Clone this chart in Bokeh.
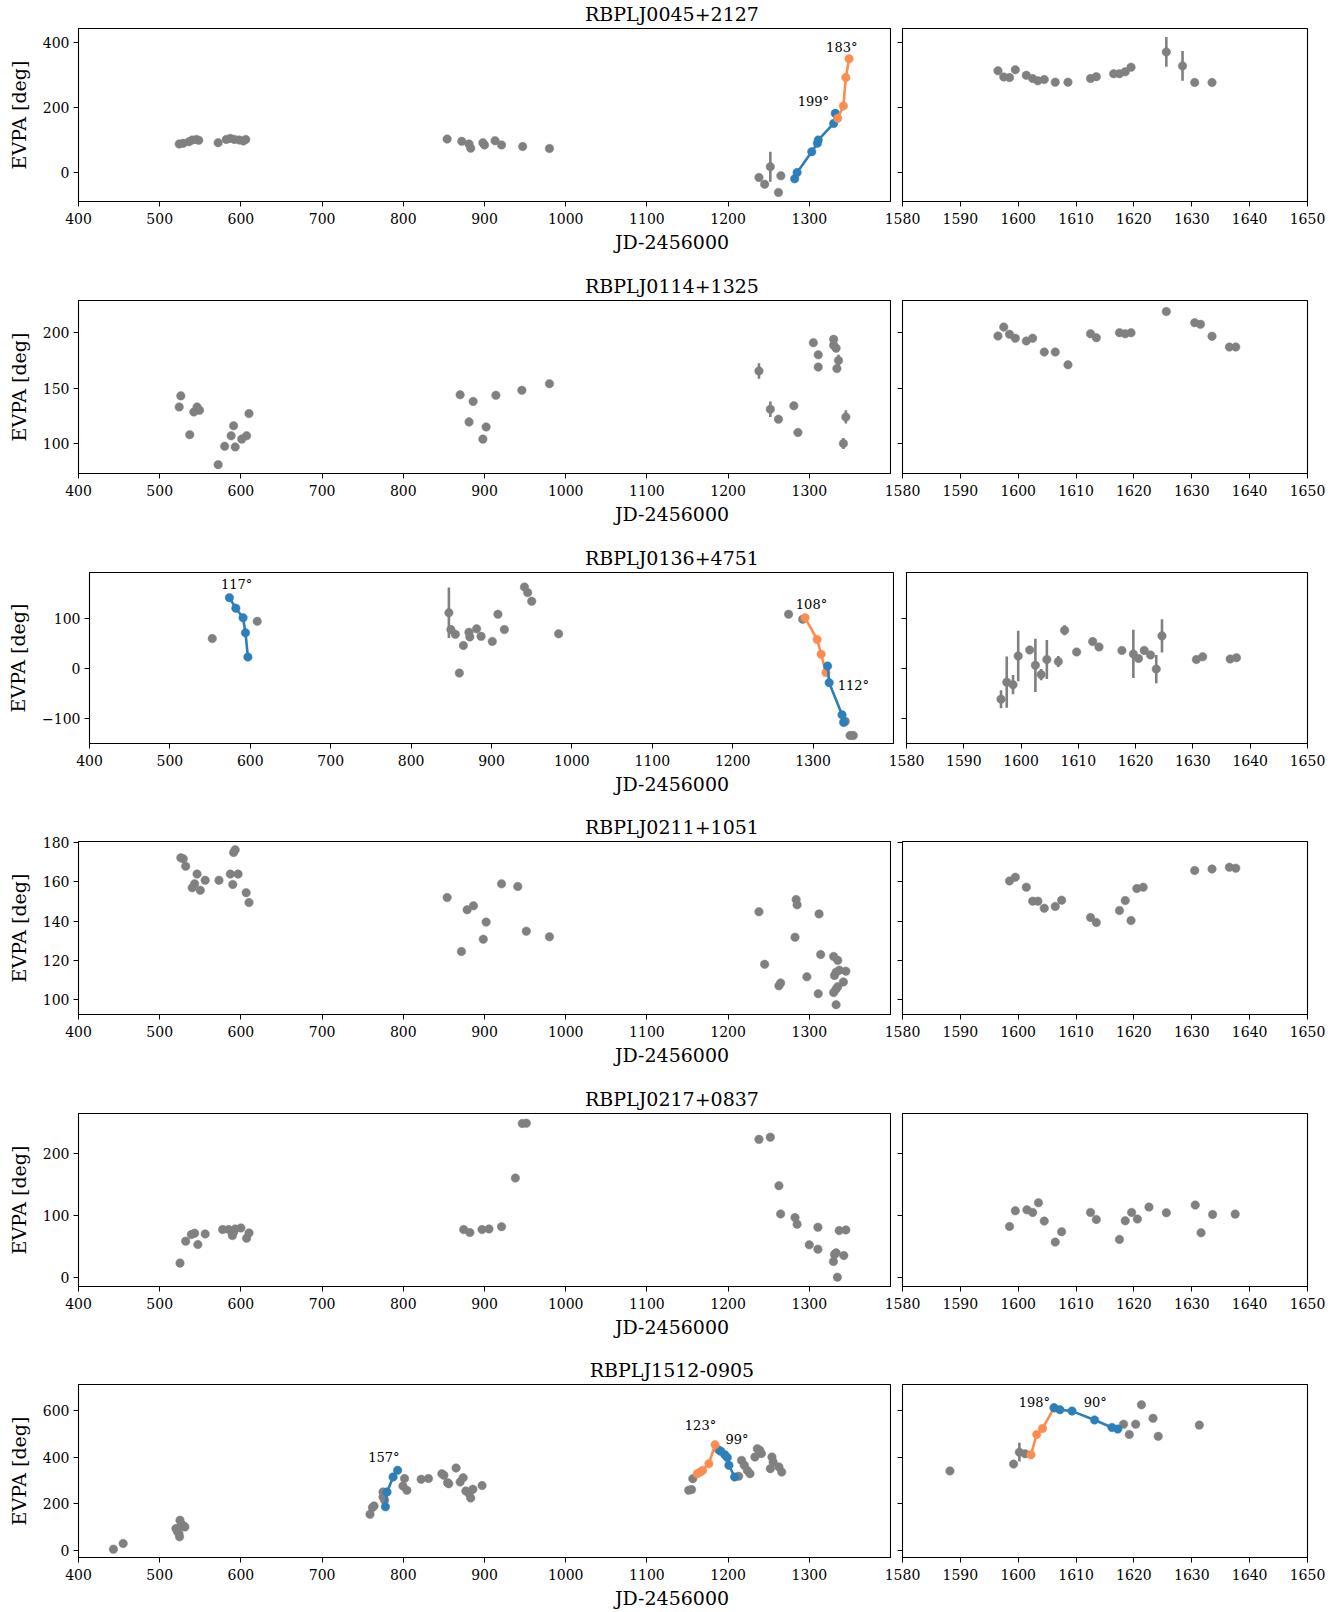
from bokeh.plotting import figure
from bokeh.layouts import column, row
from bokeh.models import Range1d, FixedTicker
from bokeh.core.properties import value
from bokeh.embed import file_html
from bokeh.resources import INLINE

FONT = "DejaVu Serif"
GREY = "#808080"
BLUE = "#2c7fb8"
ORANGE = "#fb8d50"

XL_RANGE = (400, 1400)
XR_RANGE = (1580, 1650)
XL_TICKS = [400, 500, 600, 700, 800, 900, 1000, 1100, 1200, 1300]
XR_TICKS = [1580, 1590, 1600, 1610, 1620, 1630, 1640, 1650]
XLABEL = "JD-2456000"
YLABEL = "EVPA [deg]"

# ---------------- RBPLJ0045+2127 ----------------
J0045_x = [524, 529, 536, 540, 545, 548, 572, 582, 587, 592, 598, 603, 606,
           854, 872, 881, 883, 898, 900, 913, 921, 947, 980,
           1238, 1245, 1252, 1262, 1265,
           1596.5, 1597.5, 1598.5, 1599.5, 1601.4, 1602.5, 1603.4, 1604.5, 1606.4, 1608.6,
           1612.5, 1613.5, 1616.5, 1617.5, 1618.5, 1619.5, 1625.6, 1628.4, 1630.5, 1633.5]
J0045_y = [88, 90, 95, 100, 102, 99, 92, 102, 105, 102, 100, 97, 102,
           103, 96, 88, 75, 92, 85, 98, 85, 80, 74,
           -15, -36, 18, -61, -10,
           313, 294, 292, 316, 299, 289, 282, 286, 278, 278,
           289, 295, 304, 304, 310, 324, 371, 328, 277, 277]
J0045_ex = [1252, 1625.6, 1628.4]
J0045_ey = [18, 371, 328]
J0045_ee = [46, 46, 46]
J0045_bx = [1282, 1285, 1303, 1310, 1311, 1330, 1332]
J0045_by = [-19, 0, 64, 90, 100, 151, 182]
J0045_ox = [1335, 1342, 1345, 1349]
J0045_oy = [167, 205, 292, 350]
J0045_nt = ["199°", "183°"]
J0045_nx = [1305, 1340]
J0045_ny = [218, 384]
J0045_ylim = (-89, 443)
J0045_yticks = [0, 200, 400]

# ---------------- RBPLJ0114+1325 ----------------
J0114_x = [524, 526, 537, 542, 546, 549, 572, 580, 588, 591, 593, 601, 607, 610,
           870, 881, 886, 898, 902, 914, 946, 980,
           1238, 1252, 1262, 1281, 1286, 1305, 1311, 1311, 1330, 1330, 1333, 1334, 1336, 1342, 1345,
           1596.5, 1597.5, 1598.5, 1599.5, 1601.4, 1602.5, 1604.5, 1606.4, 1608.6, 1612.5,
           1613.5, 1617.5, 1618.5, 1619.5, 1625.6, 1630.5, 1631.5, 1633.5, 1636.5, 1637.6]
J0114_y = [133, 143, 108, 128.5, 133, 130, 81, 97.6, 107, 116, 97, 104, 107, 127,
           144, 119.5, 138, 104, 115, 143.5, 148, 154,
           165.5, 131, 122, 134, 110, 191, 180, 169, 194, 188.6, 186, 167.6, 175, 100, 124,
           197, 205, 198.5, 195, 192.5, 195, 182.5, 182.5, 171, 199,
           195.5, 200, 199, 200, 219, 209, 207.5, 196.7, 187, 187]
J0114_ex = [881, 1238, 1252, 1336, 1342, 1345]
J0114_ey = [119.5, 165.5, 131, 175, 100, 124]
J0114_ee = [4, 7, 7, 5, 5, 6]
J0114_ylim = (73, 229)
J0114_yticks = [100, 150, 200]

# ---------------- RBPLJ0136+4751 ----------------
J0136_x = [552.7, 608.6, 847, 849.5, 855, 860, 865, 872, 873, 881.5, 887, 901, 908, 916,
           941, 945, 950, 983.5, 1269.5, 1287, 1340, 1346, 1350,
           1596.5, 1597.5, 1598.6, 1599.5, 1601.5, 1602.5, 1603.5, 1604.5, 1606.5, 1607.6,
           1609.7, 1612.5, 1613.6, 1617.6, 1619.6, 1620.5, 1621.5, 1622.6, 1623.6, 1624.6,
           1630.6, 1631.7, 1636.5, 1637.6]
J0136_y = [59.6, 94, 111, 77.5, 68, -9, 46, 72, 63, 79, 64, 54, 108, 77.5,
           162, 151, 134, 69, 108, 98, -105, -133, -133,
           -61, -27, -32, 25, 37, 6.5, -12, 18, 14, 76,
           33, 53.6, 43, 36, 29, 20, 36, 27, -1, 65,
           18, 23.5, 19, 21.6]
J0136_ex = [847, 1596.5, 1597.5, 1598.6, 1599.5, 1602.5, 1603.5, 1604.5, 1606.5, 1607.6,
            1619.6, 1622.6, 1623.6, 1624.6]
J0136_ey = [111, -61, -27, -32, 25, 6.5, -12, 18, 14, 76, 29, 27, -1, 65]
J0136_ee = [50, 18, 51, 19, 50, 53, 11, 39, 11, 10, 48, 8, 28, 33]
J0136_b1x = [574, 582, 591, 594, 597]
J0136_b1y = [141, 120, 101, 71, 23]
J0136_ox = [1290, 1305, 1310, 1316]
J0136_oy = [101, 58, 28.5, -8]
J0136_b2x = [1318, 1320, 1336, 1338]
J0136_b2y = [5, -28, -92, -107]
J0136_nt = ["117°", "108°", "112°"]
J0136_nx = [583, 1298, 1350]
J0136_ny = [168, 128, -34]
J0136_ylim = (-149, 191)
J0136_yticks = [-100, 0, 100]

# ---------------- RBPLJ0211+1051 ----------------
J0211_x = [526, 529, 532, 546, 540, 543, 550, 556, 573, 587, 590, 591, 593, 596.5, 606.5, 610,
           854, 871.6, 878.6, 886.4, 898.5, 902, 921, 941, 951.5, 980,
           1238, 1245, 1262.6, 1264.7, 1282.4, 1283.8, 1285, 1297, 1311, 1312, 1314,
           1330, 1335, 1331, 1333, 1337, 1330, 1333, 1335, 1333, 1342, 1345,
           1598.5, 1599.5, 1601.4, 1602.5, 1603.4, 1604.5, 1606.4, 1607.5, 1612.5, 1613.5,
           1617.5, 1618.5, 1619.5, 1620.5, 1621.6, 1630.5, 1633.5, 1636.5, 1637.6]
J0211_y = [172.3, 171.8, 168, 164, 157, 159, 155.7, 160.8, 160.8, 164, 158.7, 175, 176.4, 164, 154.5, 149.5,
           152, 124.5, 145.8, 147.8, 130.8, 139.5, 159, 157.7, 134.9, 132,
           144.8, 118, 107, 108.5, 131.8, 151, 148.3, 111.6, 103, 143.7, 123,
           122, 120, 112.3, 114, 115, 103.6, 105.4, 106.6, 97.4, 109, 114.5,
           160.5, 162.4, 157.3, 150.2, 150.2, 146.6, 147.5, 150.7, 141.9, 139.3,
           145.4, 150.5, 140.3, 156.6, 157.3, 165.8, 166.6, 167.5, 167]
J0211_ex = [1312]
J0211_ey = [143.7]
J0211_ee = [2]
J0211_ylim = (92.4, 180.6)
J0211_yticks = [100, 120, 140, 160, 180]

# ---------------- RBPLJ0217+0837 ----------------
J0217_x = [525, 532, 539, 543, 547, 556, 577.5, 585, 589.5, 591, 593, 600, 607, 610,
           874.4, 882, 897, 905.5, 921, 938, 946.5, 951.5,
           1238, 1252, 1262.6, 1264.7, 1282.4, 1285, 1300, 1310.6, 1310.6, 1329.7, 1331, 1333,
           1334.6, 1336.8, 1342.5, 1345,
           1598.5, 1599.5, 1601.5, 1602.5, 1603.5, 1604.5, 1606.4, 1607.5, 1612.5, 1613.5,
           1617.5, 1618.5, 1619.6, 1620.6, 1622.6, 1625.6, 1630.6, 1631.6, 1633.6, 1637.5]
J0217_y = [23.5, 58.7, 69.3, 71.5, 53.3, 70.4, 77.3, 77.3, 67.7, 73, 78.4, 80, 63.5, 72,
           77.3, 72.5, 77.3, 78.4, 82, 160, 247.5, 248,
           222, 225.6, 147.7, 102.4, 96.5, 85.9, 52.8, 81, 45.9, 26, 37.3, 40,
           1, 75.7, 35.7, 76.8,
           82.4, 107.5, 109, 104.8, 120.3, 90.9, 57.2, 73.8, 104.8, 93.6,
           61.5, 91.4, 104.8, 94.1, 113.4, 104.3, 116.6, 72.2, 101.6, 102.1]
J0217_ylim = (-14, 263.5)
J0217_yticks = [0, 100, 200]

# ---------------- RBPLJ1512-0905 ----------------
J1512_x = [443, 455, 520, 521.6, 523.7, 524.4, 525, 526.5, 531, 529.4,
           759, 762, 764, 775, 775, 777, 799.5, 801.5, 804.4, 822, 831, 847.5, 850, 854.6, 856,
           865, 870, 873.7, 877, 881, 883, 885.7, 897,
           1151.5, 1155, 1156.5, 1188, 1213, 1216.6, 1220, 1223.7, 1227, 1233, 1236, 1239,
           1241, 1252, 1254, 1255.5, 1262.6, 1266,
           1588.2, 1599.2, 1600.2, 1601.2, 1618.2, 1619.2, 1620.3, 1621.3, 1623.3, 1624.2, 1631.3]
J1512_y = [5.7, 30, 94, 82.7, 72.7, 58.4, 129.7, 112.6, 101, 105.5,
           155, 184, 191, 251, 229, 215, 276.5, 308, 258, 305, 308, 329, 322, 290.7, 286,
           353.4, 293.6, 312, 255, 243.7, 225, 262, 278,
           258, 261, 307.8, 432, 318, 386, 365, 343, 329, 400, 436, 429,
           415, 350.6, 400, 379, 357.7, 336,
           341, 370, 421, 414, 541, 497, 541, 624, 566, 489, 537]
J1512_ex = [1600.2]
J1512_ey = [421]
J1512_ee = [40]
J1512_b1x = [778, 780, 787.4, 793]
J1512_b1y = [187, 251, 315, 343.5]
J1512_o1x = [1162, 1165.7, 1168.5, 1176.3, 1184]
J1512_o1y = [329, 336, 343, 372, 453]
J1512_b2x = [1191, 1196, 1199, 1201, 1208]
J1512_b2y = [425, 410, 398, 365, 315]
J1512_o2x = [1602.2, 1603.2, 1604.2, 1606.2]
J1512_o2y = [410, 497, 523, 611]
J1512_b3x = [1606.2, 1607.2, 1609.3, 1613.2, 1616.2, 1617.2]
J1512_b3y = [611, 603, 597, 559, 527, 520]
J1512_nt = ["157°", "123°", "99°", "198°", "90°"]
J1512_nx = [776, 1166, 1211, 1602.8, 1613.3]
J1512_ny = [400, 536, 475, 634, 634]
J1512_ylim = (-30, 711)
J1512_yticks = [0, 200, 400, 600]

SOURCES = [
    dict(name="RBPLJ0045+2127", x=J0045_x, y=J0045_y, ex=J0045_ex, ey=J0045_ey, ee=J0045_ee,
         segs=[(BLUE, J0045_bx, J0045_by), (ORANGE, J0045_ox, J0045_oy)],
         notes=(J0045_nt, J0045_nx, J0045_ny), ylim=J0045_ylim, yticks=J0045_yticks),
    dict(name="RBPLJ0114+1325", x=J0114_x, y=J0114_y, ex=J0114_ex, ey=J0114_ey, ee=J0114_ee,
         segs=[], notes=None, ylim=J0114_ylim, yticks=J0114_yticks),
    dict(name="RBPLJ0136+4751", x=J0136_x, y=J0136_y, ex=J0136_ex, ey=J0136_ey, ee=J0136_ee,
         segs=[(BLUE, J0136_b1x, J0136_b1y), (ORANGE, J0136_ox, J0136_oy), (BLUE, J0136_b2x, J0136_b2y)],
         notes=(J0136_nt, J0136_nx, J0136_ny), ylim=J0136_ylim, yticks=J0136_yticks),
    dict(name="RBPLJ0211+1051", x=J0211_x, y=J0211_y, ex=J0211_ex, ey=J0211_ey, ee=J0211_ee,
         segs=[], notes=None, ylim=J0211_ylim, yticks=J0211_yticks),
    dict(name="RBPLJ0217+0837", x=J0217_x, y=J0217_y, ex=[], ey=[], ee=[],
         segs=[], notes=None, ylim=J0217_ylim, yticks=J0217_yticks),
    dict(name="RBPLJ1512-0905", x=J1512_x, y=J1512_y, ex=J1512_ex, ey=J1512_ey, ee=J1512_ee,
         segs=[(BLUE, J1512_b1x, J1512_b1y), (ORANGE, J1512_o1x, J1512_o1y), (BLUE, J1512_b2x, J1512_b2y),
               (ORANGE, J1512_o2x, J1512_o2y), (BLUE, J1512_b3x, J1512_b3y)],
         notes=(J1512_nt, J1512_nx, J1512_ny), ylim=J1512_ylim, yticks=J1512_yticks),
]

# ---------------- layout (pixels) ----------------
FRAME_TOP = [28, 300, 572, 841, 1113, 1384]
FH = [173, 173, 171, 173, 173, 173]
BL = [78, 78, 89, 78, 78, 78]
FWL = [812, 812, 804, 812, 812, 812]
FWR = [405, 405, 401, 405, 405, 405]
GAP = [12, 12, 13, 12, 12, 12]
PT = 10         # panel top border (room for a tick label at the frame top)
STRIP_GAP = 2   # title strip ends this far above the frame
PB = 30         # panel bottom border
OVER = 22       # overlap of right panel canvas onto left panel canvas
TITLE_ABOVE = 15
XLABEL_BELOW = 40
PAGE_W = 1337
CENTER_X = 671.5
LAST_H = 23


def style(p, xticks, yticks, hide_ylabels):
    p.xgrid.visible = False
    p.ygrid.visible = False
    p.outline_line_color = "black"
    p.outline_line_width = 1.1
    p.outline_line_alpha = 1.0
    p.background_fill_color = "white"
    p.border_fill_alpha = 0
    for ax in (p.xaxis[0], p.yaxis[0]):
        ax.axis_line_color = "black"
        ax.axis_line_width = 1
        ax.major_tick_line_color = "black"
        ax.major_tick_line_width = 1
        ax.major_tick_in = 0
        ax.major_tick_out = 5
        ax.minor_tick_line_color = None
        ax.major_label_text_font = FONT
        ax.major_label_text_font_size = "14px"
        ax.major_label_text_color = "black"
        ax.major_label_standoff = 4
    p.xaxis[0].major_label_standoff = 6
    p.xaxis[0].ticker = FixedTicker(ticks=xticks)
    p.yaxis[0].ticker = FixedTicker(ticks=yticks)
    if hide_ylabels:
        p.yaxis[0].major_label_overrides = {t: "" for t in yticks}
    else:
        p.yaxis[0].major_label_overrides = {t: ("\u2212" + str(-t)) for t in yticks if t < 0}


def draw(p, s):
    p.segment(x0=s["ex"], y0=[a - b for a, b in zip(s["ey"], s["ee"])],
              x1=s["ex"], y1=[a + b for a, b in zip(s["ey"], s["ee"])],
              line_color=GREY, line_width=2.6)
    p.scatter(s["x"], s["y"], size=8.5, fill_color=GREY, line_color=GREY, line_width=0.5)
    for col, xs, ys in s["segs"]:
        p.line(xs, ys, line_color=col, line_width=2.6)
        p.scatter(xs, ys, size=8.5, fill_color=col, line_color=col, line_width=0.5)
    if s["notes"]:
        nt, nx, ny = s["notes"]
        p.text(x=nx, y=ny, text=nt, text_font=value(FONT), text_font_size="13px",
               text_align="center", text_baseline="middle", text_color="black")


def text_strip(top, bottom, items):
    """A borderless figure spanning the page width holding centred texts."""
    h = bottom - top
    t = figure(width=PAGE_W, height=h, x_range=Range1d(0, PAGE_W), y_range=Range1d(h, 0),
               min_border=0, x_axis_location=None, y_axis_location=None,
               output_backend="svg", toolbar_location=None, tools="", title=None)
    t.xgrid.visible = False
    t.ygrid.visible = False
    t.outline_line_color = None
    t.border_fill_alpha = 0
    t.background_fill_alpha = 0
    t.text(x=[CENTER_X] * len(items), y=[yc - top for _, yc in items], text=[s for s, _ in items],
           text_font=value(FONT), text_font_size="19px", text_align="center",
           text_baseline="middle", text_color="black")
    return t


children = []
prev_bottom = 0
prev_xlabel = None
shift = PT - STRIP_GAP
for i, s in enumerate(SOURCES):
    strip_bottom = FRAME_TOP[i] - STRIP_GAP
    items = []
    if prev_xlabel is not None:
        items.append((XLABEL, prev_xlabel))
    items.append((s["name"], FRAME_TOP[i] - TITLE_ABOVE))
    children.append(text_strip(prev_bottom, strip_bottom, items))

    pl = figure(x_range=Range1d(*XL_RANGE), y_range=Range1d(*s["ylim"]),
                frame_width=FWL[i], frame_height=FH[i],
                min_border_left=BL[i], min_border_right=1, min_border_top=PT, min_border_bottom=PB,
                output_backend="svg", toolbar_location=None, tools="", title=None,
                margin=(-shift, 0, 0, 0))
    style(pl, XL_TICKS, s["yticks"], False)
    pl.yaxis[0].axis_label = YLABEL
    pl.yaxis[0].axis_label_text_font = FONT
    pl.yaxis[0].axis_label_text_font_size = "19px"
    pl.yaxis[0].axis_label_text_font_style = "normal"
    pl.yaxis[0].axis_label_text_color = "black"
    pl.yaxis[0].axis_label_standoff = 10
    draw(pl, s)

    pr = figure(x_range=Range1d(*XR_RANGE), y_range=Range1d(*s["ylim"]),
                frame_width=FWR[i], frame_height=FH[i],
                min_border_left=GAP[i] - 1 + OVER, min_border_right=30, min_border_top=PT,
                min_border_bottom=PB,
                output_backend="svg", toolbar_location=None, tools="", title=None,
                margin=(-shift, 0, 0, -OVER))
    style(pr, XR_TICKS, s["yticks"], True)
    draw(pr, s)
    children.append(row(pl, pr))

    frame_bottom = FRAME_TOP[i] + FH[i]
    prev_bottom = frame_bottom + PB
    prev_xlabel = frame_bottom + XLABEL_BELOW

children.append(text_strip(prev_bottom, prev_bottom + LAST_H, [(XLABEL, prev_xlabel)]))

layout = column(*children)
open("out.html", "w").write(file_html(layout, INLINE))
